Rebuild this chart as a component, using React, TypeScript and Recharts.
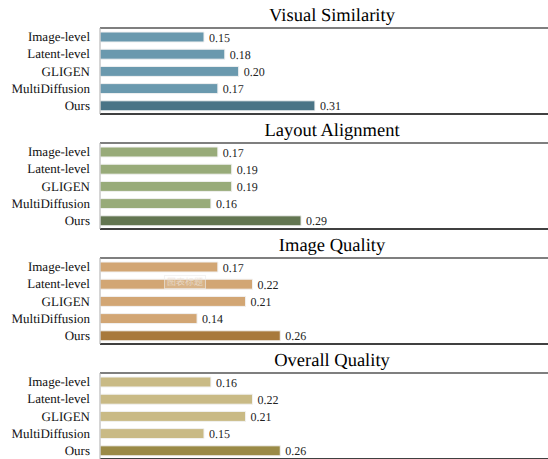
import { BarChart, Bar, XAxis, YAxis, CartesianGrid, Cell, LabelList } from 'recharts';

const categories = ['Image-level', 'Latent-level', 'GLIGEN', 'MultiDiffusion', 'Ours'];
const visualSimilarity = [0.15, 0.18, 0.2, 0.17, 0.31];
const layoutAlignment = [0.17, 0.19, 0.19, 0.16, 0.29];
const imageQuality = [0.17, 0.22, 0.21, 0.14, 0.26];
const overallQuality = [0.16, 0.22, 0.21, 0.15, 0.26];
const xTicks = [0, 0.1, 0.2, 0.3, 0.4, 0.5, 0.6, 0.7];

const SERIF = '"Liberation Serif", "Times New Roman", serif';

const panels = [
  { title: 'Visual Similarity', values: visualSimilarity, color: '#6a99ae', best: '#4a7486' },
  { title: 'Layout Alignment', values: layoutAlignment, color: '#98ab79', best: '#637651' },
  { title: 'Image Quality', values: imageQuality, color: '#d2a674', best: '#a8793c' },
  { title: 'Overall Quality', values: overallQuality, color: '#c9ba85', best: '#9a8a46' },
];

const PANEL_H = 115;

const CategoryTick = (props: any) => {
  const { x, y, payload } = props;
  return (
    <text x={x} y={y} dy={4.5} textAnchor="end" style={{ fontFamily: SERIF, fontSize: 13, fill: '#111' }}>
      {payload.value}
    </text>
  );
};

const ValueLabel = (props: any) => {
  const { x, y, width, height, value } = props;
  return (
    <text
      x={x + width + 5}
      y={y + height / 2}
      dy={4.5}
      textAnchor="start"
      style={{ fontFamily: SERIF, fontSize: 12, fill: '#222' }}
    >
      {Number(value).toFixed(2)}
    </text>
  );
};

function Panel({ title, values, color, best, top }: { title: string; values: number[]; color: string; best: string; top: number }) {
  const data = categories.map((name, i) => ({ name, value: values[i] }));
  return (
    <div style={{ position: 'absolute', left: 0, top, width: 620, height: PANEL_H }}>
      <div
        style={{
          position: 'absolute',
          left: 232,
          width: 200,
          top: 5,
          textAlign: 'center',
          fontSize: 18.5,
          lineHeight: '22px',
          color: '#000',
        }}
      >
        {title}
      </div>
      <BarChart
        width={620}
        height={PANEL_H}
        data={data}
        layout="vertical"
        margin={{ top: 27, right: 0, bottom: 0, left: 0 }}
        barSize={10}
      >
        <CartesianGrid horizontal={false} stroke="#dcdcdc" />
        <XAxis
          type="number"
          domain={[0, 0.75]}
          ticks={xTicks}
          tick={false}
          tickLine={false}
          height={1}
          axisLine={{ stroke: '#000', strokeWidth: 1.5 }}
        />
        <XAxis
          xAxisId="top"
          orientation="top"
          type="number"
          domain={[0, 0.75]}
          tick={false}
          tickLine={false}
          height={1}
          axisLine={{ stroke: '#000', strokeWidth: 1.2 }}
        />
        <YAxis
          type="category"
          dataKey="name"
          width={100}
          tickLine={false}
          tickSize={0}
          tickMargin={10}
          axisLine={{ stroke: '#bdbdbd' }}
          tick={<CategoryTick />}
          interval={0}
        />
        <Bar dataKey="value" isAnimationActive={false} stroke="#f2f2f2" strokeWidth={1}>
          {data.map((d, i) => (
            <Cell key={d.name} fill={i === data.length - 1 ? best : color} />
          ))}
          <LabelList dataKey="value" content={<ValueLabel />} />
        </Bar>
      </BarChart>
    </div>
  );
}

export default function App() {
  return (
    <div
      style={{
        position: 'absolute',
        left: 0,
        top: 0,
        width: 548,
        height: 459,
        overflow: 'hidden',
        background: '#fff',
        fontFamily: SERIF,
        textRendering: 'geometricPrecision',
      }}
    >
      {panels.map((p, i) => (
        <Panel key={p.title} {...p} top={i * PANEL_H} />
      ))}
      <div
        style={{
          position: 'absolute',
          left: 164,
          top: 275,
          padding: '0 2px',
          fontFamily: '"Noto Sans CJK SC", sans-serif',
          fontSize: 9,
          lineHeight: '12px',
          color: 'rgba(235,225,215,0.8)',
          background: 'rgba(255,255,255,0.15)',
          border: '1px solid rgba(235,235,235,0.6)',
        }}
      >
        图表标题
      </div>
    </div>
  );
}
